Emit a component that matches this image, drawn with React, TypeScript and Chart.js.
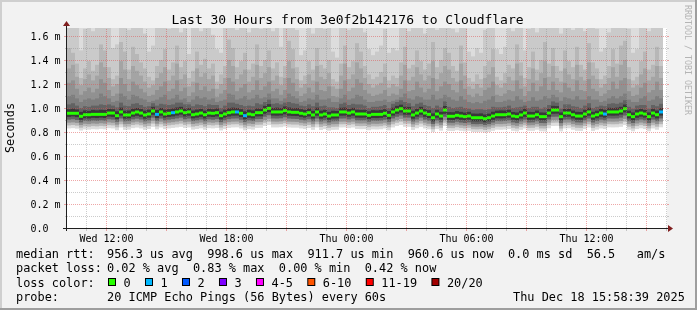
import { useEffect, useRef } from "react";
import { Chart, registerables } from "chart.js";

Chart.register(...registerables);

// ---------------- data ----------------
const chartTitle = "Last 30 Hours from 3e0f2b142176 to Cloudflare";
const yAxisTitle = "Seconds";
const creditText = "RRDTOOL / TOBI OETIKER";
const spanHours = 30;
const stepsInSpan = 150;
const yTopMs = 1.6667;

const yMajorTicks = [0, 0.2, 0.4, 0.6, 0.8, 1.0, 1.2, 1.4, 1.6];
const yMajorLabels = ["0.0", "0.2 m", "0.4 m", "0.6 m", "0.8 m", "1.0 m", "1.2 m", "1.4 m", "1.6 m"];
const yMinorTicks = [0.1, 0.3, 0.5, 0.7, 0.9, 1.1, 1.3, 1.5];
const xLabelHours = [2, 8, 14, 20, 26];
const xLabels = ["Wed 12:00", "Wed 18:00", "Thu 00:00", "Thu 06:00", "Thu 12:00"];
const xMajorHours = [2, 5, 8, 11, 14, 17, 20, 23, 26, 29];
const xMinorHours = [1, 3, 4, 6, 7, 9, 10, 12, 13, 15, 16, 18, 19, 21, 22, 24, 25, 27, 28, 30];

const legendRtt = "956.3 us avg  998.6 us max  911.7 us min  960.6 us now  0.0 ms sd  56.5   am/s";
const legendLoss = "0.02 % avg  0.83 % max  0.00 % min  0.42 % now";
const legendProbe = "20 ICMP Echo Pings (56 Bytes) every 60s";
const legendDate = "Thu Dec 18 15:58:39 2025";
const lossLabels = ["0", "1", "2", "3", "4-5", "6-10", "11-19", "20/20"];
const lossColors = ["#26ff00", "#00b8ff", "#0059ff", "#7e00ff", "#ff00ff", "#ff5500", "#ff0000", "#a10000"];
const lossUpper = [0, 1, 2, 3, 5, 10, 19, 20];

// median rtt per step (ms)
const rttMedian = [
  0.956,0.956,0.956,0.931,0.944,0.944,0.947,0.947,0.947,0.947,0.958,0.958,0.936,0.967,0.942,0.942,0.958,0.967,0.958,0.942,0.950,0.975,0.947,0.967,0.950,
  0.956,0.961,0.967,0.975,0.961,0.967,0.944,0.950,0.958,0.944,0.958,0.956,0.961,0.936,0.950,0.961,0.967,0.967,0.956,0.936,0.950,0.944,0.961,0.961,0.983,
  0.997,0.967,0.967,0.967,0.978,0.967,0.964,0.964,0.956,0.950,0.961,0.942,0.967,0.942,0.950,0.933,0.942,0.942,0.967,0.967,0.958,0.967,0.950,0.950,0.950,
  0.939,0.947,0.947,0.947,0.956,0.939,0.967,0.983,0.994,0.975,0.975,0.942,0.958,0.975,0.958,0.947,0.919,0.950,0.933,0.983,0.931,0.931,0.939,0.933,0.928,
  0.933,0.919,0.919,0.919,0.911,0.919,0.933,0.944,0.944,0.944,0.950,0.933,0.928,0.942,0.958,0.933,0.933,0.944,0.928,0.928,0.958,0.983,0.983,0.928,0.958,
  0.958,0.944,0.933,0.933,0.950,0.967,0.933,0.944,0.958,0.950,0.967,0.967,0.967,0.975,0.994,0.944,0.928,0.950,0.958,0.950,0.928,0.958,0.944,0.967,
];

// lost pings per step
const lossCount = [
  0,0,0,0,0,0,0,0,0,0,0,0,0,0,0,0,0,0,0,0,0,0,1,0,0,
  0,1,0,0,0,0,0,0,0,0,0,0,0,0,0,0,0,1,0,1,0,0,0,0,0,
  0,0,0,0,0,0,0,0,0,0,0,0,0,0,0,0,0,0,0,0,0,0,0,0,0,
  0,0,0,0,0,0,0,0,0,0,0,0,0,0,0,0,0,0,0,0,0,0,0,0,0,
  0,0,0,0,0,0,0,0,0,0,0,0,0,0,0,0,0,0,0,0,0,0,0,0,0,
  0,0,0,0,0,0,0,0,0,1,0,0,0,0,0,0,0,0,0,0,0,0,0,1,
];

// smoke: sorted ping rtts (ms), outer to inner
const pingHigh20 = [
  2.31,2.12,1.98,2.45,2.07,2.22,1.95,2.38,2.16,2.03,2.27,2.41,2.09,2.19,1.99,2.33,2.14,2.25,2.02,2.36,2.11,2.47,2.05,2.21,1.97,
  2.29,2.13,2.40,2.06,2.18,2.35,2.01,2.24,2.10,2.43,2.08,2.30,1.96,2.20,2.37,2.04,2.15,2.28,2.00,2.42,2.17,2.26,2.07,2.34,2.12,
  2.39,2.03,2.23,2.46,2.09,2.19,2.32,1.98,2.14,2.27,2.05,2.36,2.11,2.21,2.44,2.02,2.16,2.30,2.08,2.25,2.40,1.99,2.13,2.35,2.06,
  2.22,2.48,2.10,2.18,2.31,2.04,2.26,2.37,2.01,2.15,2.29,2.09,2.42,2.17,2.03,2.33,2.12,2.24,1.97,2.38,2.07,2.20,2.45,2.11,2.28,
  2.14,2.34,2.02,2.23,2.41,2.06,2.19,2.30,2.10,2.36,2.00,2.25,2.13,2.44,2.08,2.21,2.32,1.96,2.17,2.39,2.05,2.27,2.15,2.35,2.09,
  2.22,2.43,2.03,2.18,2.31,2.12,2.26,2.40,2.07,2.16,2.34,1.99,2.24,2.11,2.37,2.04,2.20,2.29,2.14,2.46,2.08,2.23,2.33,2.01,
];
const pingHigh19 = [
  1.84,1.80,1.70,1.48,1.66,1.73,1.64,1.71,1.87,1.82,1.68,1.50,1.53,1.85,1.81,1.65,1.89,1.78,1.69,1.62,1.47,1.52,1.67,1.74,1.83,
  1.66,1.72,1.86,1.63,1.70,1.45,1.68,1.82,1.64,1.75,1.67,1.61,1.49,1.46,1.71,1.90,1.84,1.65,1.69,1.81,1.63,1.73,1.85,1.66,1.70,
  1.83,1.64,1.72,1.51,1.67,1.91,1.82,1.65,1.44,1.48,1.69,1.62,1.80,1.71,1.66,1.74,1.47,1.42,1.68,1.84,1.65,1.70,1.86,1.81,1.63,
  1.49,1.44,1.47,1.52,1.66,1.46,1.50,1.48,1.71,1.85,1.64,1.69,1.82,1.67,1.62,1.73,1.87,1.65,1.70,1.84,1.80,1.66,1.63,1.83,1.68,
  1.47,1.43,1.50,1.46,1.65,1.71,1.82,1.49,1.45,1.51,1.68,1.64,1.85,1.70,1.48,1.66,1.81,1.63,1.72,1.86,1.67,1.84,1.69,1.62,1.80,
  1.71,1.65,1.83,1.68,1.64,1.87,1.70,1.66,1.47,1.50,1.63,1.82,1.69,1.85,1.88,1.66,1.46,1.49,1.71,1.81,1.64,1.68,1.84,1.67,
];
const pingHigh18 = [
  1.50,1.46,1.37,1.25,1.33,1.39,1.31,1.36,1.53,1.48,1.34,1.24,1.27,1.55,1.47,1.32,1.51,1.45,1.38,1.33,1.26,1.23,1.35,1.40,1.49,
  1.32,1.38,1.52,1.34,1.39,1.25,1.31,1.47,1.36,1.41,1.33,1.37,1.22,1.28,1.35,1.57,1.50,1.34,1.39,1.46,1.32,1.37,1.53,1.35,1.40,
  1.48,1.33,1.38,1.26,1.35,1.56,1.49,1.34,1.23,1.27,1.39,1.32,1.50,1.36,1.33,1.40,1.24,1.22,1.37,1.52,1.34,1.39,1.54,1.47,1.35,
  1.28,1.24,1.26,1.30,1.37,1.23,1.27,1.25,1.38,1.51,1.33,1.36,1.48,1.39,1.32,1.37,1.55,1.34,1.40,1.50,1.46,1.35,1.31,1.52,1.38,
  1.25,1.22,1.28,1.24,1.35,1.39,1.49,1.26,1.23,1.29,1.36,1.33,1.53,1.38,1.25,1.34,1.47,1.32,1.40,1.55,1.37,1.50,1.35,1.31,1.48,
  1.39,1.34,1.51,1.36,1.32,1.54,1.38,1.33,1.24,1.27,1.35,1.49,1.37,1.52,1.56,1.34,1.23,1.26,1.39,1.47,1.32,1.36,1.51,1.35,
];
const pingHigh17 = [
  1.33,1.36,1.26,1.19,1.24,1.28,1.23,1.27,1.38,1.34,1.25,1.18,1.20,1.39,1.32,1.24,1.35,1.31,1.27,1.22,1.17,1.19,1.25,1.29,1.34,
  1.23,1.27,1.37,1.24,1.28,1.18,1.22,1.33,1.26,1.29,1.24,1.27,1.16,1.20,1.25,1.40,1.35,1.24,1.28,1.32,1.22,1.26,1.36,1.25,1.29,
  1.34,1.23,1.27,1.19,1.25,1.39,1.33,1.24,1.17,1.20,1.28,1.23,1.35,1.26,1.24,1.29,1.18,1.16,1.27,1.37,1.24,1.28,1.38,1.33,1.25,
  1.20,1.17,1.19,1.21,1.26,1.17,1.20,1.18,1.27,1.36,1.23,1.26,1.34,1.28,1.23,1.27,1.39,1.24,1.29,1.35,1.32,1.25,1.22,1.37,1.27,
  1.18,1.16,1.20,1.17,1.25,1.28,1.34,1.19,1.17,1.21,1.26,1.23,1.37,1.27,1.18,1.24,1.33,1.23,1.29,1.39,1.26,1.35,1.25,1.22,1.33,
  1.28,1.24,1.36,1.26,1.23,1.38,1.27,1.24,1.17,1.20,1.25,1.34,1.26,1.36,1.40,1.24,1.17,1.19,1.28,1.33,1.23,1.26,1.35,1.25,
];
const pingHigh16 = [
  1.21,1.23,1.16,1.11,1.14,1.17,1.13,1.16,1.24,1.21,1.15,1.10,1.12,1.25,1.20,1.14,1.22,1.19,1.16,1.13,1.10,1.11,1.15,1.18,1.22,
  1.14,1.16,1.23,1.14,1.17,1.10,1.13,1.21,1.15,1.18,1.14,1.16,1.09,1.12,1.15,1.25,1.22,1.14,1.17,1.20,1.13,1.15,1.23,1.15,1.18,
  1.22,1.14,1.16,1.11,1.15,1.25,1.21,1.14,1.10,1.12,1.17,1.13,1.22,1.15,1.14,1.18,1.10,1.09,1.16,1.23,1.14,1.17,1.24,1.21,1.15,
  1.12,1.10,1.11,1.12,1.15,1.10,1.12,1.11,1.16,1.23,1.14,1.15,1.22,1.17,1.13,1.16,1.25,1.14,1.18,1.22,1.20,1.15,1.13,1.23,1.16,
  1.11,1.09,1.12,1.10,1.15,1.17,1.22,1.11,1.10,1.12,1.15,1.14,1.23,1.16,1.10,1.14,1.21,1.14,1.18,1.25,1.15,1.22,1.15,1.13,1.21,
  1.17,1.14,1.23,1.15,1.14,1.24,1.16,1.14,1.10,1.12,1.15,1.22,1.16,1.23,1.25,1.14,1.10,1.11,1.17,1.21,1.13,1.15,1.22,1.15,
];
const pingHigh15 = [
  1.10,1.11,1.08,1.05,1.07,1.08,1.07,1.08,1.12,1.10,1.08,1.05,1.06,1.12,1.10,1.07,1.11,1.10,1.08,1.07,1.05,1.06,1.07,1.09,1.11,
  1.07,1.08,1.11,1.07,1.08,1.05,1.07,1.10,1.08,1.09,1.07,1.08,1.05,1.06,1.07,1.12,1.11,1.07,1.08,1.10,1.07,1.08,1.11,1.08,1.09,
  1.12,1.08,1.08,1.06,1.08,1.12,1.10,1.08,1.05,1.06,1.08,1.07,1.11,1.07,1.07,1.08,1.05,1.05,1.08,1.11,1.07,1.08,1.11,1.10,1.07,
  1.05,1.05,1.06,1.06,1.07,1.05,1.06,1.07,1.09,1.12,1.08,1.07,1.10,1.09,1.07,1.07,1.11,1.07,1.08,1.11,1.09,1.07,1.06,1.10,1.07,
  1.05,1.04,1.05,1.04,1.06,1.07,1.10,1.05,1.05,1.06,1.07,1.06,1.10,1.07,1.05,1.06,1.09,1.06,1.07,1.10,1.08,1.11,1.09,1.06,1.09,
  1.08,1.07,1.10,1.07,1.07,1.10,1.07,1.07,1.05,1.06,1.08,1.10,1.08,1.10,1.12,1.07,1.05,1.05,1.08,1.10,1.06,1.07,1.10,1.08,
];
const pingHigh14 = [
  1.030,1.040,1.020,1.000,1.015,1.010,1.020,1.020,1.030,1.025,1.030,1.020,1.005,1.045,1.020,1.015,1.035,1.040,1.025,1.010,1.015,1.040,1.020,1.035,1.030,
  1.025,1.030,1.045,1.045,1.030,1.030,1.015,1.030,1.025,1.015,1.030,1.025,1.025,1.000,1.020,1.045,1.045,1.035,1.025,1.015,1.020,1.015,1.040,1.030,1.050,
  1.070,1.035,1.040,1.030,1.045,1.050,1.040,1.035,1.020,1.015,1.030,1.015,1.045,1.015,1.020,1.005,1.005,1.000,1.035,1.045,1.025,1.035,1.030,1.030,1.020,
  1.000,1.010,1.010,1.015,1.025,1.000,1.035,1.050,1.065,1.050,1.040,1.015,1.035,1.045,1.025,1.015,1.000,1.020,1.005,1.055,1.010,1.000,1.005,1.010,1.000,
  0.995,0.985,0.990,0.990,0.985,0.990,1.010,1.005,1.005,1.010,1.020,1.000,1.005,1.010,1.020,1.000,1.010,1.010,0.995,1.005,1.025,1.055,1.045,0.995,1.030,
  1.030,1.015,1.010,1.000,1.020,1.040,1.000,1.010,1.020,1.015,1.035,1.040,1.035,1.045,1.065,1.010,0.995,1.020,1.025,1.025,0.995,1.025,1.015,1.035,
];
const pingCoreHigh = [
  0.990,0.995,0.988,0.968,0.980,0.976,0.984,0.981,0.985,0.983,0.992,0.990,0.972,1.003,0.977,0.979,0.994,1.000,0.991,0.978,0.986,1.010,0.983,1.000,0.987,
  0.990,0.996,1.004,1.010,0.995,1.000,0.979,0.987,0.992,0.978,0.993,0.990,0.996,0.970,0.986,0.998,1.003,1.000,0.990,0.972,0.985,0.980,0.996,0.994,1.018,
  1.032,1.000,1.003,0.999,1.013,1.004,0.998,1.000,0.990,0.984,0.996,0.976,1.003,0.978,0.985,0.968,0.977,0.975,1.002,1.004,0.992,1.001,0.986,0.984,0.985,
  0.973,0.982,0.980,0.983,0.990,0.975,1.002,1.018,1.028,1.010,1.009,0.977,0.993,1.010,0.992,0.982,0.955,0.985,0.968,1.017,0.966,0.965,0.974,0.968,0.962,
  0.968,0.954,0.953,0.955,0.946,0.953,0.969,0.978,0.980,0.979,0.985,0.967,0.963,0.977,0.993,0.968,0.967,0.979,0.963,0.962,0.993,1.018,1.016,0.963,0.992,
  0.993,0.979,0.968,0.967,0.985,1.002,0.968,0.978,0.993,0.985,1.002,1.000,1.003,1.010,1.029,0.978,0.963,0.985,0.992,0.984,0.963,0.993,0.979,1.000,
];
const pingCoreLow = [
  0.926,0.930,0.924,0.902,0.915,0.913,0.918,0.916,0.920,0.917,0.929,0.926,0.907,0.937,0.912,0.914,0.928,0.935,0.927,0.911,0.920,0.944,0.916,0.936,0.920,
  0.926,0.930,0.937,0.945,0.930,0.936,0.914,0.920,0.927,0.913,0.928,0.925,0.930,0.905,0.920,0.930,0.936,0.937,0.925,0.906,0.919,0.914,0.930,0.931,0.952,
  0.966,0.937,0.936,0.938,0.948,0.936,0.934,0.933,0.926,0.920,0.930,0.912,0.936,0.911,0.920,0.903,0.912,0.913,0.936,0.937,0.928,0.936,0.920,0.919,0.920,
  0.909,0.917,0.916,0.918,0.926,0.908,0.937,0.952,0.963,0.945,0.944,0.911,0.928,0.944,0.927,0.917,0.889,0.919,0.903,0.952,0.901,0.900,0.909,0.902,0.898,
  0.903,0.889,0.888,0.890,0.881,0.889,0.902,0.914,0.913,0.915,0.920,0.903,0.897,0.912,0.927,0.902,0.903,0.913,0.898,0.897,0.928,0.952,0.953,0.897,0.927,
  0.928,0.913,0.903,0.902,0.920,0.936,0.902,0.914,0.927,0.920,0.937,0.936,0.937,0.945,0.964,0.913,0.898,0.919,0.928,0.920,0.898,0.927,0.913,0.937,
];
const pingLow4 = [
  0.903,0.906,0.900,0.880,0.893,0.890,0.895,0.893,0.897,0.894,0.906,0.903,0.885,0.913,0.889,0.891,0.905,0.911,0.904,0.889,0.897,0.920,0.893,0.912,0.897,
  0.903,0.907,0.913,0.920,0.906,0.912,0.891,0.897,0.904,0.890,0.905,0.902,0.907,0.882,0.897,0.907,0.912,0.913,0.902,0.883,0.896,0.891,0.907,0.908,0.928,
  0.940,0.913,0.912,0.914,0.923,0.912,0.910,0.909,0.902,0.897,0.906,0.889,0.912,0.888,0.897,0.880,0.889,0.890,0.912,0.913,0.905,0.912,0.897,0.896,0.897,
  0.886,0.894,0.893,0.895,0.902,0.885,0.913,0.927,0.937,0.920,0.920,0.888,0.904,0.920,0.903,0.894,0.867,0.896,0.880,0.927,0.878,0.877,0.886,0.879,0.875,
  0.880,0.866,0.865,0.867,0.859,0.866,0.879,0.891,0.890,0.892,0.897,0.880,0.874,0.889,0.903,0.879,0.880,0.890,0.875,0.874,0.904,0.927,0.928,0.874,0.903,
  0.904,0.890,0.880,0.879,0.897,0.912,0.879,0.891,0.903,0.897,0.913,0.912,0.913,0.920,0.937,0.890,0.875,0.896,0.904,0.897,0.875,0.903,0.890,0.913,
];
const pingLow3 = [
  0.878,0.880,0.876,0.858,0.869,0.866,0.871,0.869,0.873,0.870,0.880,0.877,0.861,0.887,0.865,0.867,0.880,0.886,0.879,0.865,0.872,0.893,0.869,0.886,0.872,
  0.878,0.882,0.887,0.893,0.881,0.886,0.867,0.872,0.879,0.866,0.880,0.877,0.882,0.859,0.872,0.882,0.886,0.887,0.877,0.860,0.871,0.867,0.882,0.883,0.900,
  0.910,0.887,0.886,0.888,0.896,0.886,0.885,0.884,0.877,0.872,0.881,0.865,0.886,0.864,0.872,0.857,0.865,0.866,0.886,0.887,0.880,0.886,0.872,0.871,0.872,
  0.862,0.869,0.868,0.870,0.877,0.861,0.887,0.900,0.909,0.893,0.893,0.864,0.879,0.893,0.878,0.869,0.845,0.871,0.857,0.900,0.855,0.854,0.862,0.856,0.852,
  0.857,0.845,0.844,0.846,0.839,0.845,0.856,0.867,0.866,0.868,0.872,0.857,0.851,0.865,0.878,0.856,0.857,0.866,0.852,0.851,0.879,0.900,0.901,0.851,0.878,
  0.879,0.866,0.857,0.856,0.872,0.886,0.856,0.867,0.878,0.872,0.887,0.886,0.887,0.893,0.909,0.866,0.852,0.871,0.879,0.872,0.852,0.878,0.866,0.887,
];
const pingLow2 = [
  0.855,0.858,0.853,0.836,0.847,0.844,0.849,0.847,0.851,0.848,0.857,0.855,0.839,0.864,0.843,0.845,0.858,0.863,0.856,0.843,0.850,0.870,0.847,0.864,0.850,
  0.856,0.860,0.864,0.870,0.859,0.864,0.845,0.850,0.857,0.844,0.858,0.855,0.860,0.837,0.850,0.860,0.864,0.865,0.855,0.838,0.849,0.845,0.860,0.861,0.877,
  0.886,0.864,0.864,0.866,0.873,0.864,0.862,0.862,0.855,0.850,0.859,0.843,0.864,0.842,0.850,0.835,0.843,0.844,0.864,0.865,0.858,0.864,0.850,0.849,0.850,
  0.840,0.847,0.846,0.848,0.855,0.839,0.864,0.877,0.886,0.870,0.870,0.842,0.857,0.870,0.856,0.847,0.823,0.849,0.835,0.877,0.833,0.832,0.840,0.834,0.830,
  0.835,0.823,0.822,0.824,0.817,0.823,0.834,0.845,0.844,0.846,0.850,0.835,0.829,0.843,0.856,0.834,0.835,0.844,0.830,0.829,0.857,0.877,0.878,0.829,0.856,
  0.857,0.844,0.835,0.834,0.850,0.864,0.834,0.845,0.856,0.850,0.865,0.864,0.865,0.870,0.886,0.844,0.830,0.849,0.857,0.850,0.830,0.856,0.844,0.865,
];
const pingLow1 = [
  0.830,0.832,0.828,0.812,0.822,0.820,0.824,0.822,0.826,0.823,0.832,0.830,0.815,0.838,0.818,0.820,0.832,0.837,0.830,0.818,0.825,0.843,0.822,0.838,0.825,
  0.830,0.834,0.838,0.843,0.833,0.838,0.820,0.825,0.831,0.819,0.832,0.830,0.834,0.813,0.825,0.834,0.838,0.839,0.830,0.814,0.824,0.820,0.834,0.835,0.850,
  0.858,0.838,0.838,0.840,0.846,0.838,0.836,0.836,0.830,0.825,0.833,0.818,0.838,0.817,0.825,0.811,0.818,0.819,0.838,0.839,0.832,0.838,0.825,0.824,0.825,
  0.815,0.822,0.821,0.823,0.830,0.814,0.838,0.850,0.858,0.843,0.843,0.817,0.831,0.843,0.830,0.822,0.800,0.824,0.811,0.850,0.809,0.808,0.815,0.810,0.806,
  0.810,0.800,0.799,0.801,0.795,0.800,0.810,0.820,0.819,0.821,0.825,0.810,0.805,0.818,0.830,0.810,0.810,0.819,0.806,0.805,0.831,0.850,0.851,0.805,0.830,
  0.831,0.819,0.810,0.809,0.825,0.838,0.809,0.820,0.830,0.825,0.839,0.838,0.839,0.843,0.858,0.819,0.806,0.824,0.831,0.825,0.806,0.830,0.819,0.839,
];

// ---------------- rendering ----------------
const W = 697;
const H = 310;
const MONO = '"DejaVu Sans Mono", monospace';

function lossColor(count: number): string {
  for (let i = 0; i < lossUpper.length; i++) if (count <= lossUpper[i]) return lossColors[i];
  return lossColors[lossColors.length - 1];
}

function hDots(ctx: CanvasRenderingContext2D, y: number, x0: number, x1: number) {
  for (let x = x0; x <= x1; x += 2) ctx.fillRect(x, y, 1, 1);
}
function vDots(ctx: CanvasRenderingContext2D, x: number, y0: number, y1: number) {
  for (let y = y1; y >= y0; y -= 2) ctx.fillRect(x, y, 1, 1);
}

export default function App() {
  const canvasRef = useRef<HTMLCanvasElement | null>(null);

  useEffect(() => {
    document.body.style.margin = "0";
    const canvas = canvasRef.current;
    if (!canvas) return;

    const columnLabels = Array.from({ length: stepsInSpan }, (_, i) => String(i));
    const smokeBands = [
      { lower: pingLow1, upper: pingHigh20, color: "#dddddd" },
      { lower: null, upper: pingHigh19, color: "#cacaca" },
      { lower: pingLow2, upper: pingHigh18, color: "#b7b7b7" },
      { lower: null, upper: pingHigh17, color: "#a4a4a4" },
      { lower: pingLow3, upper: pingHigh16, color: "#919191" },
      { lower: null, upper: pingHigh15, color: "#7e7e7e" },
      { lower: pingLow4, upper: pingHigh14, color: "#626262" },
      { lower: pingCoreLow, upper: pingCoreHigh, color: "#383838" },
    ];
    const common = {
      type: "bar" as const,
      xAxisID: "x",
      yAxisID: "y",
      grouped: false,
      barPercentage: 1,
      categoryPercentage: 1,
      borderWidth: 0,
      borderSkipped: false,
      inflateAmount: 0,
      clip: 0,
    };
    const datasets: any[] = smokeBands.map((b, i) => ({
      ...common,
      data: b.upper.map((u, k) => [b.lower ? b.lower[k] : rttMedian[k], u]),
      backgroundColor: b.color,
      order: smokeBands.length - i + 1,
    }));
    const medianHalf = (1.5 * yTopMs) / 200; // 1.5 px
    datasets.push({
      ...common,
      data: rttMedian.map((m) => [m - medianHalf, m + medianHalf]),
      backgroundColor: lossCount.map(lossColor),
      order: 0,
    });

    const decor = {
      id: "rrdDecor",
      beforeDraw(chart: any) {
        const { ctx, chartArea: a } = chart;
        ctx.save();
        ctx.fillStyle = "#f2f2f2";
        ctx.fillRect(0, 0, W, H);
        ctx.fillStyle = "#cfcfcf";
        ctx.fillRect(0, 0, W, 2);
        ctx.fillRect(0, 0, 2, H);
        ctx.fillStyle = "#9e9e9e";
        ctx.fillRect(0, H - 2, W, 2);
        ctx.fillRect(W - 2, 0, 2, H);
        ctx.fillStyle = "#ffffff";
        ctx.fillRect(a.left, a.top, a.right - a.left, a.bottom - a.top);
        ctx.restore();
      },
      afterDatasetsDraw(chart: any) {
        const { ctx, chartArea: a } = chart;
        const ys = chart.scales.y;
        const ts = chart.scales.t;
        const minorC = "rgba(143,143,143,0.45)";
        const majorC = "rgba(222,79,79,0.5)";
        ctx.save();
        ctx.fillStyle = minorC;
        for (const v of yMinorTicks) {
          const y = Math.round(ys.getPixelForValue(v));
          hDots(ctx, y, a.left, a.right - 1);
          ctx.fillRect(a.left - 2, y, 1, 1);
          ctx.fillRect(a.right, y, 2, 1);
        }
        for (const h of xMinorHours) {
          const x = Math.round(ts.getPixelForValue(h)) - 1;
          vDots(ctx, x, a.top, a.bottom - 1);
          ctx.fillRect(x, a.bottom + 1, 1, 2);
        }
        ctx.fillStyle = majorC;
        for (const v of yMajorTicks) {
          if (v === 0) continue;
          const y = Math.round(ys.getPixelForValue(v));
          hDots(ctx, y, a.left, a.right - 1);
          ctx.fillRect(a.left - 3, y, 2, 1);
          ctx.fillRect(a.right, y, 2, 1);
        }
        for (const h of xMajorHours) {
          const x = Math.round(ts.getPixelForValue(h)) - 1;
          vDots(ctx, x, a.top, a.bottom - 1);
          ctx.fillRect(x, a.bottom + 1, 1, 2);
        }
        ctx.restore();
      },
      afterDraw(chart: any) {
        const { ctx, chartArea: a } = chart;
        const ys = chart.scales.y;
        const ts = chart.scales.t;
        ctx.save();
        // axes
        const axisY = Math.round(ys.getPixelForValue(0));
        ctx.fillStyle = "#1f1f1f";
        ctx.fillRect(a.left - 4, axisY, a.right - a.left + 6, 1);
        ctx.fillRect(a.left - 1, a.top - 3, 1, axisY - a.top + 6);
        ctx.fillStyle = "#801f1f";
        ctx.beginPath();
        ctx.moveTo(a.right + 1, axisY - 3);
        ctx.lineTo(a.right + 6, axisY + 0.5);
        ctx.lineTo(a.right + 1, axisY + 4);
        ctx.closePath();
        ctx.fill();
        ctx.beginPath();
        ctx.moveTo(a.left - 4, a.top - 2);
        ctx.lineTo(a.left - 0.5, a.top - 7);
        ctx.lineTo(a.left + 3, a.top - 2);
        ctx.closePath();
        ctx.fill();

        ctx.fillStyle = "#000000";
        // title
        ctx.font = `13px ${MONO}`;
        ctx.textAlign = "center";
        ctx.textBaseline = "alphabetic";
        ctx.fillText(chartTitle, 347.5, 24);

        // y tick labels
        ctx.font = `10px ${MONO}`;
        ctx.textAlign = "left";
        yMajorTicks.forEach((v, i) => {
          ctx.fillText(yMajorLabels[i], 30.5, ys.getPixelForValue(v) + 3.7);
        });
        // x tick labels
        ctx.textAlign = "center";
        xLabelHours.forEach((h, i) => {
          ctx.fillText(xLabels[i], ts.getPixelForValue(h) - 0.5, 242);
        });

        // y axis title
        ctx.save();
        ctx.font = `11.9px ${MONO}`;
        ctx.translate(14, (a.top + a.bottom) / 2);
        ctx.rotate(-Math.PI / 2);
        ctx.textAlign = "center";
        ctx.fillText(yAxisTitle, 0, 0);
        ctx.restore();

        // credit
        ctx.save();
        ctx.font = `8.3px ${MONO}`;
        ctx.fillStyle = "#b4b4b4";
        ctx.translate(685, 5);
        ctx.rotate(Math.PI / 2);
        ctx.textAlign = "left";
        ctx.fillText(creditText, 0, 0);
        ctx.restore();

        // legend
        const cw = 7.164;
        ctx.font = `11.9px ${MONO}`;
        ctx.textAlign = "left";
        const tab = 107;
        ctx.fillText("median rtt:", 16, 258);
        ctx.fillText(legendRtt, tab, 258);
        ctx.fillText("packet loss:", 16, 272.3);
        ctx.fillText(legendLoss, tab, 272.3);
        ctx.fillText("loss color:", 16, 286.5);
        let x = 108;
        lossLabels.forEach((lab, i) => {
          ctx.fillStyle = "#000000";
          ctx.fillRect(x, 278, 8, 8);
          ctx.fillStyle = lossColors[i];
          ctx.fillRect(x + 1, 279, 6, 6);
          ctx.fillStyle = "#000000";
          ctx.fillText(lab, x + 15.5, 286.5);
          x += 15.5 + (lab.length + 2) * cw;
        });
        ctx.fillText("probe:", 16, 300.7);
        ctx.fillText(legendProbe, tab, 300.7);
        ctx.fillText(legendDate, 513, 300.7);
        ctx.restore();
      },
    };

    const chart = new Chart(canvas, {
      type: "bar",
      data: { labels: columnLabels, datasets },
      options: {
        animation: false,
        responsive: false,
        devicePixelRatio: 1,
        events: [],
        layout: { padding: { left: 67, right: 30, top: 28, bottom: 82 } },
        plugins: { legend: { display: false }, tooltip: { enabled: false }, title: { display: false } },
        scales: {
          x: { type: "category", display: false, offset: true, grid: { display: false } },
          t: {
            type: "linear",
            axis: "x",
            position: "bottom",
            min: 0,
            max: spanHours,
            offset: false,
            grid: { offset: false, display: false },
            display: false,
          },
          y: { type: "linear", min: 0, max: yTopMs, display: false },
        },
      } as any,
      plugins: [decor],
    });
    return () => chart.destroy();
  }, []);

  return (
    <div style={{ width: W, height: H }}>
      <canvas ref={canvasRef} width={W} height={H} style={{ display: "block", width: W, height: H }} />
    </div>
  );
}
